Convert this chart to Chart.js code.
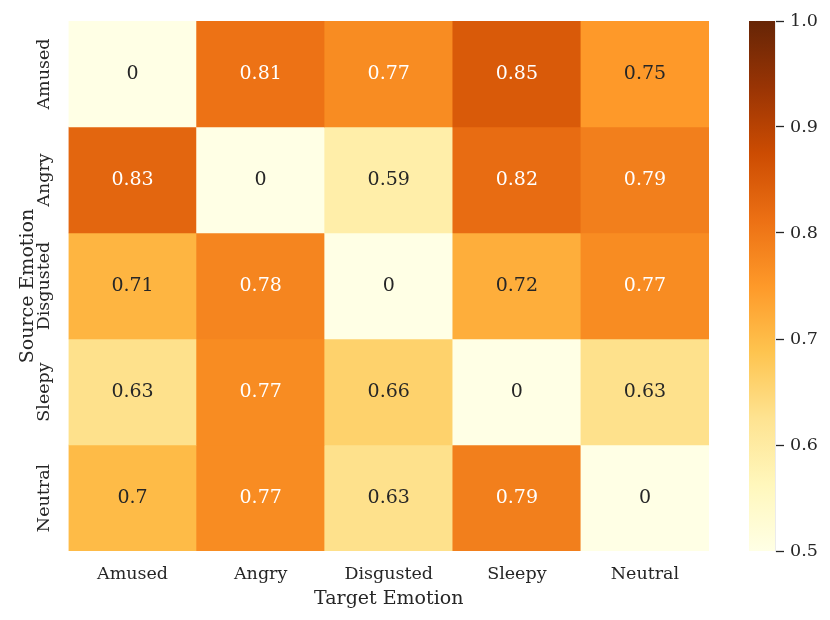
<!DOCTYPE html>
<html>
<head>
<meta charset="utf-8">
<script src="https://cdn.jsdelivr.net/npm/chart.js@4"></script>
<style>
  html, body { margin: 0; padding: 0; background: #ffffff; }
  #wrap { position: relative; width: 830px; height: 620px; background: #ffffff; }
  #heatBox { position: absolute; left: 0; top: 0; width: 740px; height: 620px; }
  #cbarBox { position: absolute; left: 740px; top: 0; width: 90px; height: 620px; }
</style>
</head>
<body>
<div id="wrap">
  <div id="heatBox"><canvas id="heat"></canvas></div>
  <div id="cbarBox"><canvas id="cbar"></canvas></div>
</div>
<script>
// ---- data ----
const sourceEmotions = ['Amused', 'Angry', 'Disgusted', 'Sleepy', 'Neutral'];
const targetEmotions = ['Amused', 'Angry', 'Disgusted', 'Sleepy', 'Neutral'];
const rowAmused    = [0,    0.81, 0.77, 0.85, 0.75];
const rowAngry     = [0.83, 0,    0.59, 0.82, 0.79];
const rowDisgusted = [0.71, 0.78, 0,    0.72, 0.77];
const rowSleepy    = [0.63, 0.77, 0.66, 0,    0.63];
const rowNeutral   = [0.7,  0.77, 0.63, 0.79, 0];
const matrixRows = [rowAmused, rowAngry, rowDisgusted, rowSleepy, rowNeutral];
const colorbarTicks = [0.5, 0.6, 0.7, 0.8, 0.9, 1.0];
const vMin = 0.5, vMax = 1.0;

// ---- YlOrBr colormap ----
const ylOrBr = ['#ffffe5', '#fff7bc', '#fee391', '#fec44f', '#fe9929', '#ec7014', '#cc4c02', '#993404', '#662506'];
function hexRgb(h) { return [parseInt(h.slice(1,3),16), parseInt(h.slice(3,5),16), parseInt(h.slice(5,7),16)]; }
const cmapRgb = ylOrBr.map(hexRgb);
function cmap(v) {
  let t = (v - vMin) / (vMax - vMin);
  t = Math.max(0, Math.min(1, t));
  const pos = t * (cmapRgb.length - 1);
  const i = Math.min(Math.floor(pos), cmapRgb.length - 2);
  const f = pos - i;
  const a = cmapRgb[i], b = cmapRgb[i + 1];
  return [0,1,2].map(k => Math.round(a[k] + (b[k] - a[k]) * f));
}
function rgbStr(c) { return 'rgb(' + c[0] + ',' + c[1] + ',' + c[2] + ')'; }
function luminance(c) {
  const lin = c.map(x => { x /= 255; return x <= 0.03928 ? x / 12.92 : Math.pow((x + 0.055) / 1.055, 2.4); });
  return 0.2126 * lin[0] + 0.7152 * lin[1] + 0.0722 * lin[2];
}
function fmt2g(v) { return v === 0 ? '0' : String(Number(v.toPrecision(2))); }

const FONT = '"DejaVu Serif", "Liberation Serif", serif';
const TXT = '#262626';
const TICK_SIZE = 17.5;
const LABEL_SIZE = 19;

// measure widest y tick label to center rotated labels
const mctx = document.createElement('canvas').getContext('2d');
mctx.font = TICK_SIZE + 'px ' + FONT;
const widestY = Math.max(...sourceEmotions.map(s => mctx.measureText(s).width));
const yLabelCenterX = 44.2;
const heatLeft = 68.5;

const datasets = matrixRows.map((row, i) => ({
  label: sourceEmotions[i],
  data: row.map(() => [i, i + 1]),
  values: row,
  backgroundColor: row.map(v => rgbStr(cmap(v))),
  borderWidth: 0,
  barPercentage: 1.0,
  categoryPercentage: 1.0,
  grouped: false
}));

const annotatePlugin = {
  id: 'annotate',
  afterDatasetsDraw(chart) {
    const ctx = chart.ctx;
    ctx.save();
    ctx.font = LABEL_SIZE + 'px ' + FONT;
    ctx.textAlign = 'center';
    ctx.textBaseline = 'middle';
    chart.data.datasets.forEach((ds, i) => {
      const meta = chart.getDatasetMeta(i);
      meta.data.forEach((bar, j) => {
        const p = bar.getProps(['x', 'y', 'base'], true);
        const v = ds.values[j];
        const lum = luminance(cmap(v));
        ctx.fillStyle = lum > 0.408 ? TXT : '#ffffff';
        ctx.fillText(fmt2g(v), p.x, (p.y + p.base) / 2);
      });
    });
    ctx.restore();
  }
};

new Chart(document.getElementById('heat'), {
  type: 'bar',
  data: { labels: targetEmotions, datasets: datasets },
  options: {
    responsive: true,
    maintainAspectRatio: false,
    animation: false,
    layout: { padding: { left: 0, right: 31, top: 21, bottom: 0 } },
    plugins: { legend: { display: false }, tooltip: { enabled: false } },
    scales: {
      x: {
        type: 'category',
        offset: true,
        grid: { display: false, drawTicks: false },
        border: { display: false },
        ticks: { color: TXT, font: { family: FONT, size: TICK_SIZE }, padding: 12.5, maxRotation: 0, autoSkip: false },
        title: { display: true, text: 'Target Emotion', color: TXT, font: { family: FONT, size: LABEL_SIZE }, padding: { top: 0, bottom: 10 } },
        afterFit(s) { s.height = 69; }
      },
      y: {
        type: 'linear',
        min: 0, max: 5,
        reverse: true,
        grid: { display: false, drawTicks: false },
        border: { display: false },
        afterBuildTicks(s) { s.ticks = sourceEmotions.map((_, i) => ({ value: i + 0.5 })); },
        ticks: {
          color: TXT,
          font: { family: FONT, size: TICK_SIZE },
          minRotation: 90, maxRotation: 90,
          crossAlign: 'center',
          padding: heatLeft - yLabelCenterX - widestY / 2,
          autoSkip: false,
          callback(value, index) { return sourceEmotions[index]; }
        },
        title: { display: true, text: 'Source Emotion', color: TXT, font: { family: FONT, size: LABEL_SIZE }, padding: { top: 16.5, bottom: 0 } },
        afterFit(s) { s.width = heatLeft; }
      }
    }
  },
  plugins: [annotatePlugin]
});

// ---- colorbar ----
new Chart(document.getElementById('cbar'), {
  type: 'bar',
  data: {
    labels: [''],
    datasets: [{
      data: [[vMin, vMax]],
      borderWidth: 0,
      barPercentage: 1.0,
      categoryPercentage: 1.0,
      backgroundColor(c) {
        const chart = c.chart;
        const ys = chart.scales.y;
        if (!ys || !chart.chartArea) return ylOrBr[4];
        const g = chart.ctx.createLinearGradient(0, ys.getPixelForValue(vMin), 0, ys.getPixelForValue(vMax));
        ylOrBr.forEach((col, k) => g.addColorStop(k / (ylOrBr.length - 1), col));
        return g;
      }
    }]
  },
  options: {
    responsive: true,
    maintainAspectRatio: false,
    animation: false,
    layout: { padding: { left: 9, right: 0, top: 21, bottom: 69 } },
    plugins: { legend: { display: false }, tooltip: { enabled: false } },
    scales: {
      x: { display: false },
      y: {
        type: 'linear',
        position: 'right',
        min: vMin, max: vMax,
        afterBuildTicks(s) { s.ticks = colorbarTicks.map(v => ({ value: v })); },
        grid: { drawOnChartArea: false, drawTicks: true, tickLength: 9, color: TXT, tickWidth: 1.3 },
        border: { display: true, color: 'rgba(0,0,0,0.08)', width: 1 },
        ticks: { color: TXT, font: { family: FONT, size: TICK_SIZE }, padding: 6, callback(v) { return Number(v).toFixed(1); } },
        afterFit(s) { s.width = 55; }
      }
    }
  }
});
</script>
</body>
</html>
